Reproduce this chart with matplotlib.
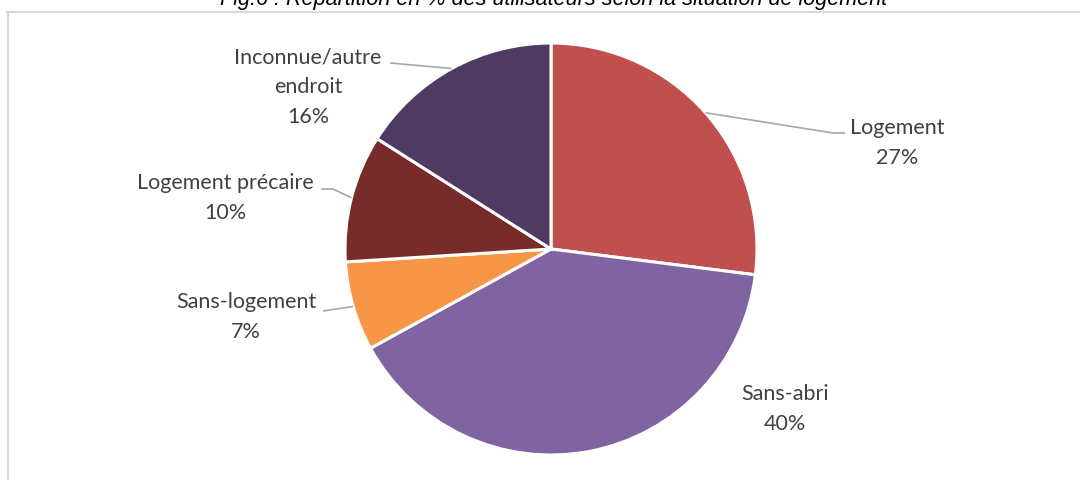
import numpy as np
import matplotlib
matplotlib.use("Agg")
import matplotlib.pyplot as plt
from matplotlib.lines import Line2D

# Répartition des utilisateurs selon la situation de logement (%)
categories = ["Logement", "Sans-abri", "Sans-logement", "Logement précaire",
              "Inconnue/autre\nendroit"]
values = [27, 40, 7, 10, 16]
colors = ["#C0504D", "#8064A2", "#F79646", "#772C2A", "#4F3B62"]
title = "Fig.6 : Répartition en % des utilisateurs selon la situation de logement"

W, H = 1080, 480
fig = plt.figure(figsize=(W / 100, H / 100), dpi=100)
ax = fig.add_axes([0, 0, 1, 1])


def py(y):
    """Convert a top-down pixel row into the axes' y coordinate."""
    return H - y


cx, cy, r = 551, py(249), 206
wedges, _ = ax.pie(values, colors=colors, startangle=90, counterclock=False,
                   center=(cx, cy), radius=r, frame=True,
                   wedgeprops=dict(edgecolor="white", linewidth=2.2))
ax.set_xlim(0, W)
ax.set_ylim(0, H)
ax.set_aspect("equal")
ax.axis("off")

# Label placement (text centre) and leader-line elbows for each slice
label_pos = [(897, 143), (785, 409), (246, 317), (225, 198), (308, 87)]
leaders = [[(833, 133), (845, 133)],
           None,
           [(323, 311)],
           [(333, 189), (321, 189)],
           [(390, 63)]]

label_color = "#404040"
for w, cat, v, (lx, ly), elbow in zip(wedges, categories, values, label_pos, leaders):
    mid = np.deg2rad((w.theta1 + w.theta2) / 2)
    ex, ey = cx + r * np.cos(mid), cy + r * np.sin(mid)
    ax.text(lx, py(ly), f"{cat}\n{v}%", ha="center", va="center",
            fontsize=15.5, family="Lato", color=label_color, linespacing=1.6)
    if elbow:
        xs = [ex] + [p[0] for p in elbow]
        ys = [ey] + [py(p[1]) for p in elbow]
        ax.plot(xs, ys, color="#A6A6A6", lw=1.2, solid_capstyle="butt")

# Chart frame (top and left edges visible)
frame_color = "#D9D9D9"
fig.add_artist(Line2D([7 / W, 1], [1 - 12 / H, 1 - 12 / H],
                      transform=fig.transFigure, color=frame_color, lw=1.6))
fig.add_artist(Line2D([8 / W, 8 / W], [0, 1 - 12 / H],
                      transform=fig.transFigure, color=frame_color, lw=1.6))

# Title sits above the frame, partly cut by the figure edge
fig.text(554 / W, 1 - 5 / H, title, ha="center", va="baseline",
         fontsize=15.6, family="Liberation Sans", style="italic", color="#000000")

fig.savefig("out.png", dpi=100)
